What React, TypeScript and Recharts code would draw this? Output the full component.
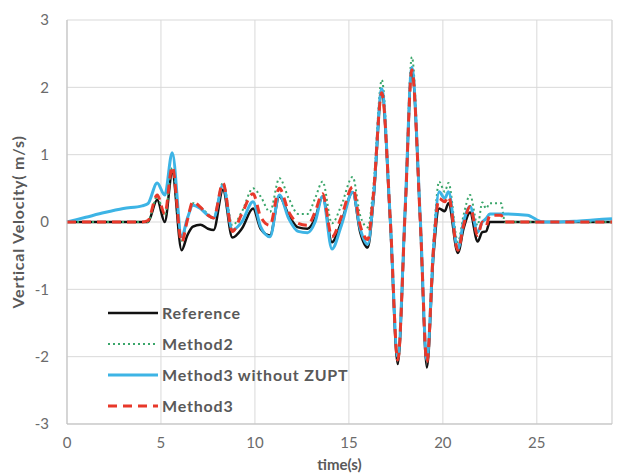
import { CartesianGrid, Legend, Line, LineChart, ReferenceLine, XAxis, YAxis } from 'recharts';

const time = [
  0, 1, 2, 3, 4, 4.3, 4.8, 5.2, 5.6, 6.1, 6.4, 6.7, 7.1, 7.5, 7.8, 8.3, 8.8, 9.3, 9.9, 10.3, 10.8, 11.3,
  11.8, 12.3, 12.8, 13.2, 13.6, 14.1, 14.6, 15.2, 15.6, 16.0, 16.3, 16.75, 17.2, 17.6, 18.0, 18.35, 18.8,
  19.15, 19.5, 19.8, 20.1, 20.3, 20.8, 21.1, 21.45, 21.85, 22.1, 22.3, 22.5, 23.1, 23.3, 24.5, 25.3, 26,
  27, 28, 29,
];
const reference = [
  0, 0, 0, 0, 0, 0, 0.33, 0.0, 0.73, -0.42, -0.2, -0.07, -0.04, -0.1, -0.12, 0.48, -0.23, -0.1, 0.2, -0.1,
  -0.2, 0.38, 0.1, -0.08, -0.1, 0.05, 0.38, -0.3, 0.0, 0.44, -0.15, -0.38, 0.3, 1.9, 0.0, -2.11, 0.2, 2.2,
  0.0, -2.16, -0.5, 0.2, 0.16, 0.28, -0.46, -0.1, 0.14, -0.29, -0.15, -0.14, 0, 0, 0, 0, 0, 0, 0, 0, 0,
];
const method2 = [
  0, 0, 0, 0, 0, 0, 0.38, 0.1, 0.8, -0.28, 0.05, 0.28, 0.22, 0.12, 0.06, 0.58, -0.05, 0.15, 0.5, 0.38,
  0.15, 0.65, 0.35, 0.12, 0.12, 0.35, 0.6, -0.02, 0.25, 0.67, 0.1, -0.08, 0.5, 2.11, 0.1, -2.0, 0.3, 2.45,
  0.1, -2.05, -0.3, 0.6, 0.45, 0.58, -0.3, 0.1, 0.4, -0.05, 0.29, 0.2, 0.28, 0.28, 0, 0, 0, 0, 0, 0, 0,
];
const method3NoZupt = [
  0, 0.07, 0.14, 0.2, 0.24, 0.27, 0.58, 0.4, 1.03, -0.22, 0.05, 0.25, 0.2, 0.1, 0.06, 0.55, -0.12, 0.0,
  0.3, -0.07, -0.22, 0.4, 0.05, -0.14, -0.16, 0.0, 0.38, -0.4, -0.05, 0.44, -0.1, -0.33, 0.35, 1.98, 0.05,
  -2.0, 0.25, 2.3, 0.05, -2.05, -0.4, 0.45, 0.35, 0.45, -0.4, 0.0, 0.23, -0.15, 0.0, 0.05, 0.12, 0.12,
  0.12, 0.1, 0, 0, 0.01, 0.03, 0.05,
];
const method3 = [
  0, 0, 0, 0, 0, 0.02, 0.4, 0.12, 0.82, -0.3, 0.02, 0.3, 0.22, 0.1, 0.06, 0.58, -0.14, 0.12, 0.42, 0.08,
  -0.05, 0.5, 0.15, -0.02, -0.05, 0.15, 0.42, -0.22, 0.08, 0.52, -0.05, -0.26, 0.4, 1.92, 0.05, -2.05, 0.2,
  2.26, 0.0, -2.08, -0.4, 0.35, 0.3, 0.38, -0.42, -0.05, 0.23, -0.2, 0.0, -0.06, 0.1, 0.1, 0, 0, 0, 0, 0,
  0, 0,
];
const xTicks = [0, 5, 10, 15, 20, 25];
const yTicks = [-3, -2, -1, 0, 1, 2, 3];

const data = time.map((t, i) => ({
  t,
  ref: reference[i],
  m2: method2[i],
  m3nz: method3NoZupt[i],
  m3: method3[i],
}));

const series = [
  { key: 'ref', name: 'Reference', color: '#111111', width: 2.5, dash: undefined },
  { key: 'm2', name: 'Method2', color: '#3aa66a', width: 2, dash: '2 3' },
  { key: 'm3nz', name: 'Method3 without ZUPT', color: '#3db4e5', width: 3, dash: undefined },
  { key: 'm3', name: 'Method3', color: '#e8382a', width: 3, dash: '9 6' },
];

const font = 'Lato, "Open Sans", sans-serif';

function ChartLegend() {
  return (
    <div style={{ fontFamily: font }}>
      {series.map((s) => (
        <div key={s.key} style={{ display: 'flex', alignItems: 'center', height: 31 }}>
          <svg width={54} height={6}>
            <line
              x1={2}
              x2={52}
              y1={3}
              y2={3}
              stroke={s.color}
              strokeWidth={s.width}
              strokeDasharray={s.dash}
            />
          </svg>
          <span
            style={{
              fontWeight: 700,
              fontSize: 16,
              color: '#595959',
              letterSpacing: 0.8,
              marginLeft: 2,
              whiteSpace: 'nowrap',
            }}
          >
            {s.name}
          </span>
        </div>
      ))}
    </div>
  );
}

export default function App() {
  return (
    <div style={{ position: 'absolute', left: 0, top: 0, background: '#fff' }}>
      <LineChart
        width={617}
        height={475}
        data={data}
        margin={{ top: 20, right: 5, left: 17, bottom: 0 }}
      >
        <CartesianGrid stroke='#d9d9d9' strokeWidth={1} />
        <XAxis
          type='number'
          dataKey='t'
          domain={[0, 29]}
          ticks={xTicks}
          height={51}
          tickLine={false}
          tickSize={0}
          tickMargin={13}
          axisLine={{ stroke: '#bfbfbf' }}
          tick={{ fill: '#6b6b6b', fontSize: 15, fontFamily: font }}
          label={{
            value: 'time(s)',
            position: 'insideBottom',
            offset: 5,
            fill: '#595959',
            fontSize: 15,
            fontWeight: 700,
            fontFamily: font,
          }}
        />
        <YAxis
          type='number'
          domain={[-3, 3]}
          ticks={yTicks}
          width={50}
          tickLine={false}
          tickSize={0}
          tickMargin={18}
          axisLine={{ stroke: '#bfbfbf' }}
          tick={{ fill: '#6b6b6b', fontSize: 15, fontFamily: font }}
          label={{
            content: () => (
              <text
                x={17}
                y={222}
                transform='rotate(-90 17 222)'
                textAnchor='middle'
                dominantBaseline='central'
                fill='#595959'
                fontSize={16}
                fontWeight={700}
                fontFamily={font}
                letterSpacing={0.8}
              >
                Vertical Velocity( m/s)
              </text>
            ),
          }}
        />
        <ReferenceLine x={29} stroke='#d9d9d9' />
        <Legend
          layout='vertical'
          align='center'
          verticalAlign='middle'
          wrapperStyle={{ left: 106, top: 297, width: 260 }}
          content={<ChartLegend />}
        />
        {series.map((s) => (
          <Line
            key={s.key}
            type='monotone'
            dataKey={s.key}
            name={s.name}
            stroke={s.color}
            strokeWidth={s.width}
            strokeDasharray={s.dash}
            dot={false}
            isAnimationActive={false}
          />
        ))}
      </LineChart>
    </div>
  );
}
